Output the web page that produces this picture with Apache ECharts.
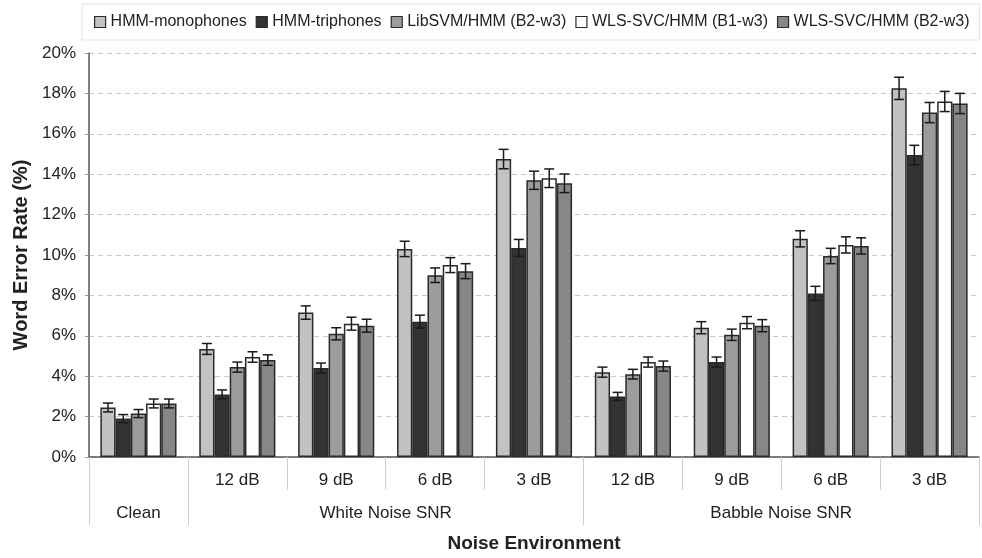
<!DOCTYPE html>
<html><head><meta charset="utf-8">
<script src="https://cdn.jsdelivr.net/npm/echarts@6/dist/echarts.min.js"></script>
<style>html,body{margin:0;padding:0;background:#fff}#c{width:982px;height:558px}</style>
</head><body><div id="c"></div>
<script>
var level1Labels = ['', '12 dB', '9 dB', '6 dB', '3 dB', '12 dB', '9 dB', '6 dB', '3 dB'];
var level2Labels = ['', 'Clean', '', '', '', '', 'White Noise SNR', '', '', '', '', '', '', '', 'Babble Noise SNR', '', '', '', ''];
var level2Ticks = [0, 2, 10, 18];
var seriesNames = ['HMM-monophones', 'HMM-triphones', 'LibSVM/HMM (B2-w3)', 'WLS-SVC/HMM (B1-w3)', 'WLS-SVC/HMM (B2-w3)'];
var monophones = [2.45, 5.35, 7.15, 10.3, 14.75, 4.2, 6.4, 10.8, 18.25];
var triphones  = [1.9, 3.1, 4.4, 6.7, 10.35, 3.0, 4.7, 8.1, 14.95];
var libsvm     = [2.15, 4.45, 6.1, 9.0, 13.7, 4.1, 6.05, 9.95, 17.05];
var wlsB1      = [2.65, 4.95, 6.6, 9.5, 13.8, 4.7, 6.65, 10.5, 17.6];
var wlsB2      = [2.65, 4.8, 6.5, 9.2, 13.55, 4.5, 6.5, 10.45, 17.5];
var errMono = [0.22, 0.27, 0.33, 0.38, 0.48, 0.25, 0.3, 0.4, 0.55];
var errTri  = [0.2, 0.22, 0.25, 0.32, 0.42, 0.2, 0.25, 0.35, 0.48];
var errLib  = [0.2, 0.25, 0.3, 0.36, 0.45, 0.24, 0.28, 0.38, 0.5];
var errB1   = [0.22, 0.26, 0.32, 0.37, 0.46, 0.25, 0.3, 0.4, 0.5];
var errB2   = [0.22, 0.26, 0.32, 0.37, 0.46, 0.25, 0.3, 0.4, 0.5];
var yTicks = ['0%', '2%', '4%', '6%', '8%', '10%', '12%', '14%', '16%', '18%', '20%'];

var values = [monophones, triphones, libsvm, wlsB1, wlsB2];
var errs = [errMono, errTri, errLib, errB1, errB2];
var colors = ['#c2c2c2', '#333333', '#9c9c9c', '#ffffff', '#878787'];
var GAP = 0.23;
var FONT = '"Liberation Sans", Arial, sans-serif';

var series = [];
values.forEach(function (v, i) {
  series.push({
    name: seriesNames[i], type: 'bar', data: v,
    barCategoryGap: (GAP * 100) + '%', barGap: '0%',
    itemStyle: { color: colors[i], borderColor: '#2a2a2a', borderWidth: 1.5 },
    z: 2
  });
});
values.forEach(function (v, i) {
  var d = v.map(function (val, k) { return [k, val - errs[i][k], val + errs[i][k]]; });
  series.push({
    name: 'err' + i, type: 'custom', data: d, z: 5,
    encode: { x: 0, y: [1, 2] },
    renderItem: function (params, api) {
      var x = api.value(0);
      var lo = api.coord([x, api.value(1)]);
      var hi = api.coord([x, api.value(2)]);
      var band = api.size([1, 0])[0];
      var bw = band * (1 - GAP) / 5;
      var cx = lo[0] + (i - 2) * bw;
      var cap = 5;
      var st = { stroke: '#1a1a1a', lineWidth: 1.5 };
      return { type: 'group', children: [
        { type: 'line', shape: { x1: cx, y1: lo[1], x2: cx, y2: hi[1] }, style: st },
        { type: 'line', shape: { x1: cx - cap, y1: lo[1], x2: cx + cap, y2: lo[1] }, style: st },
        { type: 'line', shape: { x1: cx - cap, y1: hi[1], x2: cx + cap, y2: hi[1] }, style: st }
      ]};
    }
  });
});

var chart = echarts.init(document.getElementById('c'), null, { renderer: 'canvas' });
chart.setOption({
  animation: false,
  textStyle: { fontFamily: FONT, color: '#222' },
  legend: {
    data: seriesNames, top: 4, left: 82,
    itemWidth: 11, itemHeight: 11, itemGap: 9,
    icon: 'rect',
    itemStyle: { borderColor: '#2a2a2a', borderWidth: 1.2 },
    textStyle: { fontSize: 16, color: '#222', fontFamily: FONT },
    borderColor: '#e2e2e2', borderWidth: 1, padding: [10, 10, 10, 12]
  },
  grid: { left: 89, right: 1, top: 53, bottom: 98 },
  xAxis: [{
    type: 'category', data: level1Labels, position: 'bottom',
    axisLine: { lineStyle: { color: '#555', width: 1.5 } },
    axisTick: { show: true, interval: 0, length: 33, lineStyle: { color: '#d0d0d0', width: 1 } },
    axisLabel: { interval: 0, fontSize: 17, color: '#222', margin: 15, fontFamily: FONT },
    splitLine: { show: false }
  }, {
    type: 'category', data: level2Labels, position: 'bottom', offset: 33, boundaryGap: false,
    axisLine: { show: false },
    axisTick: { show: true, length: 35, interval: function (idx) { return level2Ticks.indexOf(idx) >= 0; }, lineStyle: { color: '#d0d0d0', width: 1 } },
    axisLabel: { interval: 0, fontSize: 17, color: '#222', margin: 15, fontFamily: FONT },
    name: 'Noise Environment', nameLocation: 'middle', nameGap: 44,
    nameTextStyle: { fontSize: 19, fontWeight: 'bold', color: '#222', fontFamily: FONT }
  }],
  yAxis: {
    type: 'value', min: 0, max: 20, interval: 2,
    axisLine: { show: true, lineStyle: { color: '#555', width: 1.5 } },
    axisTick: { show: true, length: 4, lineStyle: { color: '#999' } },
    axisLabel: { fontSize: 17, color: '#222', margin: 13, fontFamily: FONT,
      formatter: function (v) { return yTicks[Math.round(v / 2)]; } },
    splitLine: { show: true, lineStyle: { color: '#c8c8c8', type: [5, 4], width: 1 } },
    name: 'Word Error Rate (%)', nameLocation: 'middle', nameGap: 56, nameRotate: 90,
    nameTextStyle: { fontSize: 20, fontWeight: 'bold', color: '#222', fontFamily: FONT }
  },
  series: series
});
</script></body></html>
